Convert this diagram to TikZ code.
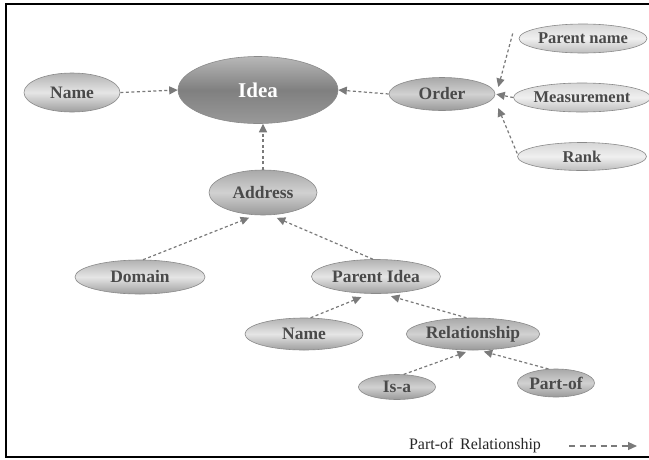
\documentclass[tikz,border=0pt]{standalone}
\usepackage{fontspec}
\setmainfont{Liberation Serif}
\usetikzlibrary{shapes.geometric,arrows.meta,calc}
\definecolor{edgec}{HTML}{7A7A7A}
\definecolor{txtc}{HTML}{4A4A4A}
\definecolor{outc}{HTML}{8A8A8A}
\tikzset{
  bub/.style={ellipse, draw=outc, line width=0.6pt, inner sep=0pt, text=txtc,
    font=\bfseries\fontsize{17.5}{18}\selectfont},
  lightbub/.style={bub, top color=black!30, bottom color=black!38, middle color=black!10},
  midbub/.style={bub, top color=black!34, bottom color=black!40, middle color=black!18},
  rightbub/.style={bub, top color=black!16, bottom color=black!26, middle color=black!6,
    font=\bfseries\fontsize{16.5}{17}\selectfont},
  ideabub/.style={ellipse, draw=outc, line width=0.6pt, inner sep=0pt, text=white,
    top color=black!28, bottom color=black!40, middle color=black!50,
    font=\bfseries\fontsize{21}{22}\selectfont},
  arr/.style={draw=edgec, line width=1.2pt, dash pattern=on 3pt off 2.5pt,
    -{Triangle[length=8.5pt,width=8pt]}},
  legarr/.style={draw=edgec, line width=1.2pt, dash pattern=on 6pt off 4.5pt,
    -{Triangle[length=9pt,width=8pt]}},
}
\begin{document}
\begin{tikzpicture}[x=1pt,y=-1pt]
\useasboundingbox (0,0) rectangle (649,459);
\fill[white] (0,0) rectangle (649,459);
\draw[line width=2pt] (6,4) rectangle (670,457);
% nodes
\node[ideabub, minimum width=160pt, minimum height=67pt] (idea) at (258,90) {Idea};
\node[lightbub, minimum width=96pt, minimum height=39pt] (name1) at (72,92.5) {Name};
\node[midbub, minimum width=106pt, minimum height=33pt] (order) at (442,94) {Order};
\node[rightbub, minimum width=128pt, minimum height=29pt] (pname) at (583,38.5) {Parent name};
\node[rightbub, minimum width=129pt, minimum height=29pt] (meas) at (582,97.5) {Measurement};
\node[rightbub, minimum width=129pt, minimum height=28pt] (rank) at (582,156.5) {Rank};
\node[midbub, minimum width=108pt, minimum height=45pt] (address) at (263,192.5) {Address};
\node[lightbub, minimum width=130pt, minimum height=34pt] (domain) at (140,277) {Domain};
\node[lightbub, minimum width=129pt, minimum height=34pt] (pidea) at (376,276.5) {Parent Idea};
\node[lightbub, minimum width=118pt, minimum height=32pt] (name2) at (304,334) {Name};
\node[midbub, minimum width=120pt, minimum height=32pt] (rel) at (473,334) {Relationship};
\node[midbub, minimum width=77pt, minimum height=25pt] (isa) at (397,387) {Is-a};
\node[midbub, minimum width=77pt, minimum height=28pt] (partof) at (556,383) {Part-of};
% connectors
\draw[arr] (name1.east) -- (idea.west);
\draw[arr] (order.west) -- (idea.east);
\draw[arr] (address.north) -- (address.north |- idea.south);
\draw[arr] ($(pname.west)+(-6,-5)$) -- ($(order.east)+(3,-7)$);
\draw[arr, shorten >=1pt] (meas.west) -- (order.east);
\draw[arr] ($(rank.west)+(0,-3)$) -- ($(order.east)+(3,14)$);
\draw[arr, shorten >=7pt] (domain.80) -- (address.252);
\draw[arr, shorten >=7pt] (pidea.100) -- (address.288);
\draw[arr, shorten >=9pt] (name2.68) -- (pidea.250);
\draw[arr, shorten >=9pt] (rel.112) -- (pidea.290);
\draw[arr, shorten >=5pt] (isa.62) -- (rel.262);
\draw[arr, shorten >=5pt] (partof.118) -- (rel.290);
% legend
\node[font=\fontsize{16}{17}\selectfont, text=black!85] (leg) at (475,446) {Part-of\, Relationship};
\coordinate (ls) at (569,446);
\coordinate (le) at (637,446);
\draw[legarr] (ls) -- (le);
\end{tikzpicture}
\end{document}
